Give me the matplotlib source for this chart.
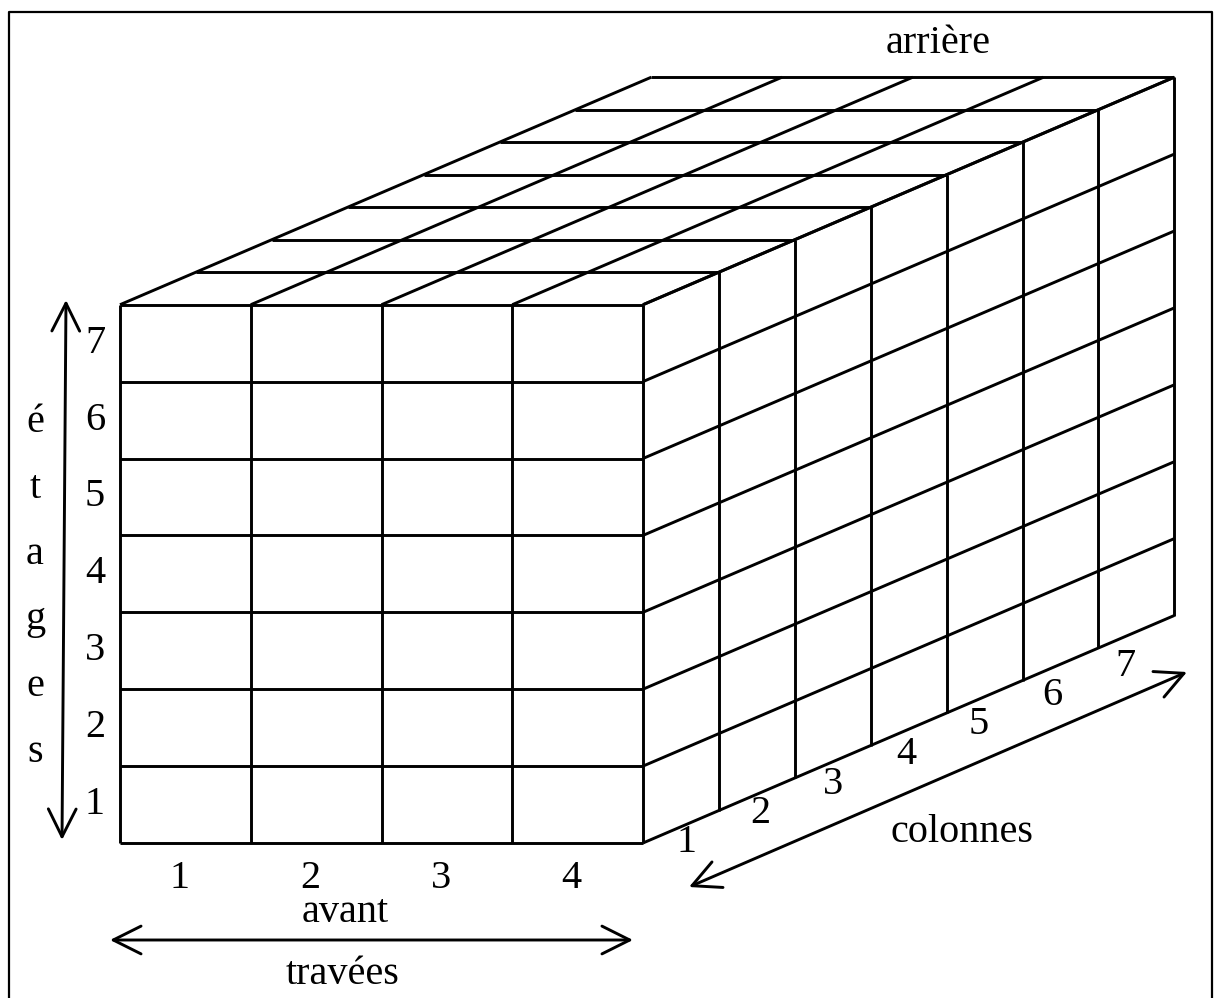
import matplotlib
matplotlib.use("Agg")
import matplotlib.pyplot as plt
from matplotlib.patches import FancyArrowPatch

# ---- données ----
travees = [1, 2, 3, 4]
etages = [1, 2, 3, 4, 5, 6, 7]
colonnes = [1, 2, 3, 4, 5, 6, 7]
lettres_etages = list("étages")

# ---- géométrie (pixels de l'image) ----
X0, Y0 = 120, 843          # coin avant, bas, gauche
LARG, HAUT = 130.75, 76.9  # une travée, un étage
DX, DY = 75.9, -32.5       # une colonne en profondeur

LW = 2.1
FONT = "Liberation Serif"
FS = 29


def proj(t, e, c):
    return X0 + t * LARG + c * DX, Y0 - e * HAUT + c * DY


def seg(ax, a, b):
    (x1, y1), (x2, y2) = proj(*a), proj(*b)
    ax.plot([x1, x2], [y1, y2], color="black", lw=LW, solid_capstyle="butt")


def fleche(ax, p1, p2):
    ax.add_patch(FancyArrowPatch(p1, p2, arrowstyle="<->,head_length=20,head_width=10",
                                 mutation_scale=1, lw=LW, color="black",
                                 shrinkA=0, shrinkB=0))


fig = plt.figure(figsize=(12.18, 9.98), dpi=100)
ax = fig.add_axes([0, 0, 1, 1])
ax.set_xlim(0, 1218)
ax.set_ylim(998, 0)
ax.axis("off")

nt, ne, nc = len(travees), len(etages), len(colonnes)

# face avant
for t in range(nt + 1):
    seg(ax, (t, 0, 0), (t, ne, 0))
for e in range(ne + 1):
    seg(ax, (0, e, 0), (nt, e, 0))

# dessus
for t in range(nt + 1):
    seg(ax, (t, ne, 0), (t, ne, nc))
for c in range(1, nc + 1):
    seg(ax, (0, ne, c), (nt, ne, c))

# côté droit
for e in range(ne + 1):
    seg(ax, (nt, e, 0), (nt, e, nc))
for c in range(1, nc + 1):
    seg(ax, (nt, 0, c), (nt, ne, c))

txt = dict(family=FONT, fontsize=FS, ha="center", va="center", color="black")

# étages
for e in etages:
    ax.text(95, proj(0, e - 0.5, 0)[1], str(e), **txt)
for i, l in enumerate(lettres_etages):
    ax.text(35, 422 + i * 66, l, **txt)
fleche(ax, (66, 300), (62, 840))

# travées
for t in travees:
    ax.text(proj(t - 0.5, 0, 0)[0] - 6, 878, str(t), **txt)
ax.text(345, 913, "avant", **txt)
ax.text(343, 974, "travées", **txt)
fleche(ax, (110, 940), (633, 940))

# colonnes
for c in colonnes:
    ax.text(687 + (c - 1) * 73, 843 - (c - 1) * 29.5, str(c), **txt)
ax.text(962, 833, "colonnes", **txt)
fleche(ax, (689, 887), (1187, 672))

ax.text(938, 43, "arrière", **txt)

# cadre
ax.plot([9, 9, 1212, 1212], [1010, 12, 12, 1010], color="black", lw=1.6)

fig.savefig("out.png", dpi=100)
